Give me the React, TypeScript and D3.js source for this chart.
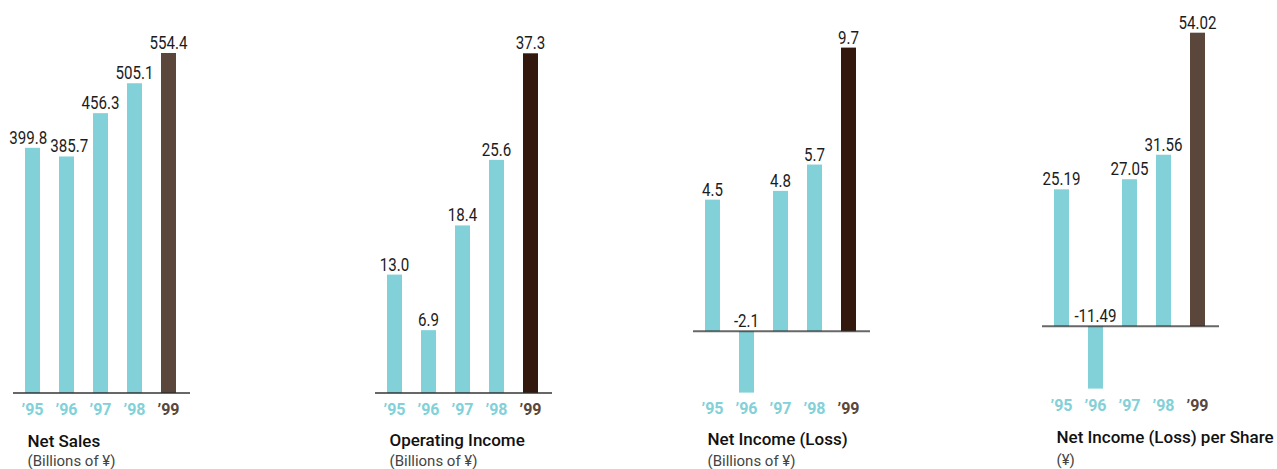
import React from "react";
import * as d3 from "d3";

const years = ["’95", "’96", "’97", "’98", "’99"];
const netSales = [399.8, 385.7, 456.3, 505.1, 554.4];
const operatingIncome = [13.0, 6.9, 18.4, 25.6, 37.3];
const netIncome = [4.5, -2.1, 4.8, 5.7, 9.7];
const netIncomePerShare = [25.19, -11.49, 27.05, 31.56, 54.02];

const titles = ["Net Sales", "Operating Income", "Net Income (Loss)", "Net Income (Loss) per Share"];
const subtitles = ["(Billions of ¥)", "(Billions of ¥)", "(Billions of ¥)", "(¥)"];
const decimals = [1, 1, 1, 2];

const TEAL = "#82d1d8";
const BROWN = "#5a463b";
const DARK = "#33180e";

type Panel = {
  values: number[];
  x0: number;
  yTop: number;
  yBottom: number;
  yearBase: number;
  titleBase: number;
  subBase: number;
  lastColor: string;
};

const panels: Panel[] = [
  { values: netSales, x0: 13, yTop: 53, yBottom: 393, yearBase: 415, titleBase: 447, subBase: 466, lastColor: BROWN },
  { values: operatingIncome, x0: 375, yTop: 53.3, yBottom: 393, yearBase: 415, titleBase: 446, subBase: 466, lastColor: DARK },
  { values: netIncome, x0: 693, yTop: 47.6, yBottom: 392.6, yearBase: 414, titleBase: 445, subBase: 466, lastColor: DARK },
  { values: netIncomePerShare, x0: 1042, yTop: 32.7, yBottom: 388.6, yearBase: 411, titleBase: 443, subBase: 465, lastColor: BROWN },
];

const VALUE_FONT = "Roboto, 'Noto Sans', sans-serif";
const TEXT_FONT = "Roboto, 'Noto Sans', sans-serif";
const VALUE_SIZE = 18;
const VALUE_SCALE_X = 0.84;

function approxWidth(s: string) {
  let w = 0;
  for (const c of s) {
    if (c === ".") w += 0.26;
    else if (c === "-") w += 0.3;
    else w += 0.562;
  }
  return w * VALUE_SIZE * VALUE_SCALE_X;
}

function ChartPanel({ p, i }: { p: Panel; i: number }) {
  const minV = Math.min(0, d3.min(p.values) as number);
  const maxV = d3.max(p.values) as number;
  const y = d3.scaleLinear().domain([minV, maxV]).range([p.yBottom, p.yTop]);
  const x = d3
    .scaleBand<string>()
    .domain(years)
    .range([p.x0 + 12, p.x0 + 12 + 5 * 34 - 19])
    .paddingInner(19 / 34)
    .paddingOuter(0);
  const y0 = y(0);
  const bw = x.bandwidth();
  const labels = p.values.map((v, k) => {
    const s = v.toFixed(decimals[i]);
    return {
      s,
      cx: (x(years[k]) as number) + bw / 2,
      ly: v >= 0 ? y(v) - 4 : y0 - 4.5,
      w: approxWidth(s),
    };
  });
  // nudge apart horizontally overlapping neighbour labels
  for (let k = 0; k < labels.length - 1; k++) {
    const a = labels[k];
    const b = labels[k + 1];
    if (Math.abs(a.ly - b.ly) < 14) {
      const overlap = a.cx + a.w / 2 - (b.cx - b.w / 2) + 3;
      if (overlap > 0) {
        a.cx -= overlap * 0.6;
        b.cx += overlap * 0.4;
      }
    }
  }
  return (
    <g>
      {p.values.map((v, k) => {
        const xx = x(years[k]) as number;
        const top = Math.min(y(v), y0);
        const h = Math.abs(y(v) - y0);
        return (
          <rect key={"b" + k} x={xx} y={top} width={bw} height={h} fill={k === 4 ? p.lastColor : TEAL} />
        );
      })}
      <line x1={p.x0} x2={p.x0 + 177} y1={y0} y2={y0} stroke="rgba(45,45,45,0.72)" strokeWidth={2} />
      {labels.map((l, k) => (
        <text
          key={"v" + k}
          transform={`translate(${l.cx},${l.ly}) scale(${VALUE_SCALE_X},1)`}
          textAnchor="middle"
          fontFamily={VALUE_FONT}
          fontSize={VALUE_SIZE}
          fill="#1c1c1c"
        >
          {l.s}
        </text>
      ))}
      {years.map((yr, k) => (
        <text
          key={"y" + k}
          x={(x(yr) as number) + bw / 2}
          y={p.yearBase}
          textAnchor="middle"
          fontFamily={TEXT_FONT}
          fontWeight={700}
          fontSize={16}
          fill={k === 4 ? BROWN : TEAL}
        >
          {yr}
        </text>
      ))}
      <text
        x={(x(years[0]) as number) + 2.5}
        y={p.titleBase}
        fontFamily={TEXT_FONT}
        fontWeight={500}
        fontSize={17}
        fill="#111"
      >
        {titles[i]}
      </text>
      <text
        x={(x(years[0]) as number) + 2.5}
        y={p.subBase}
        fontFamily={TEXT_FONT}
        fontWeight={400}
        fontSize={15}
        fill="#444"
      >
        {subtitles[i]}
      </text>
    </g>
  );
}

export default function App() {
  return (
    <svg
      width={1277}
      height={469}
      style={{ position: "absolute", left: 0, top: 0, display: "block", background: "#fff" }}
    >
      {panels.map((p, i) => (
        <ChartPanel key={i} p={p} i={i} />
      ))}
    </svg>
  );
}
